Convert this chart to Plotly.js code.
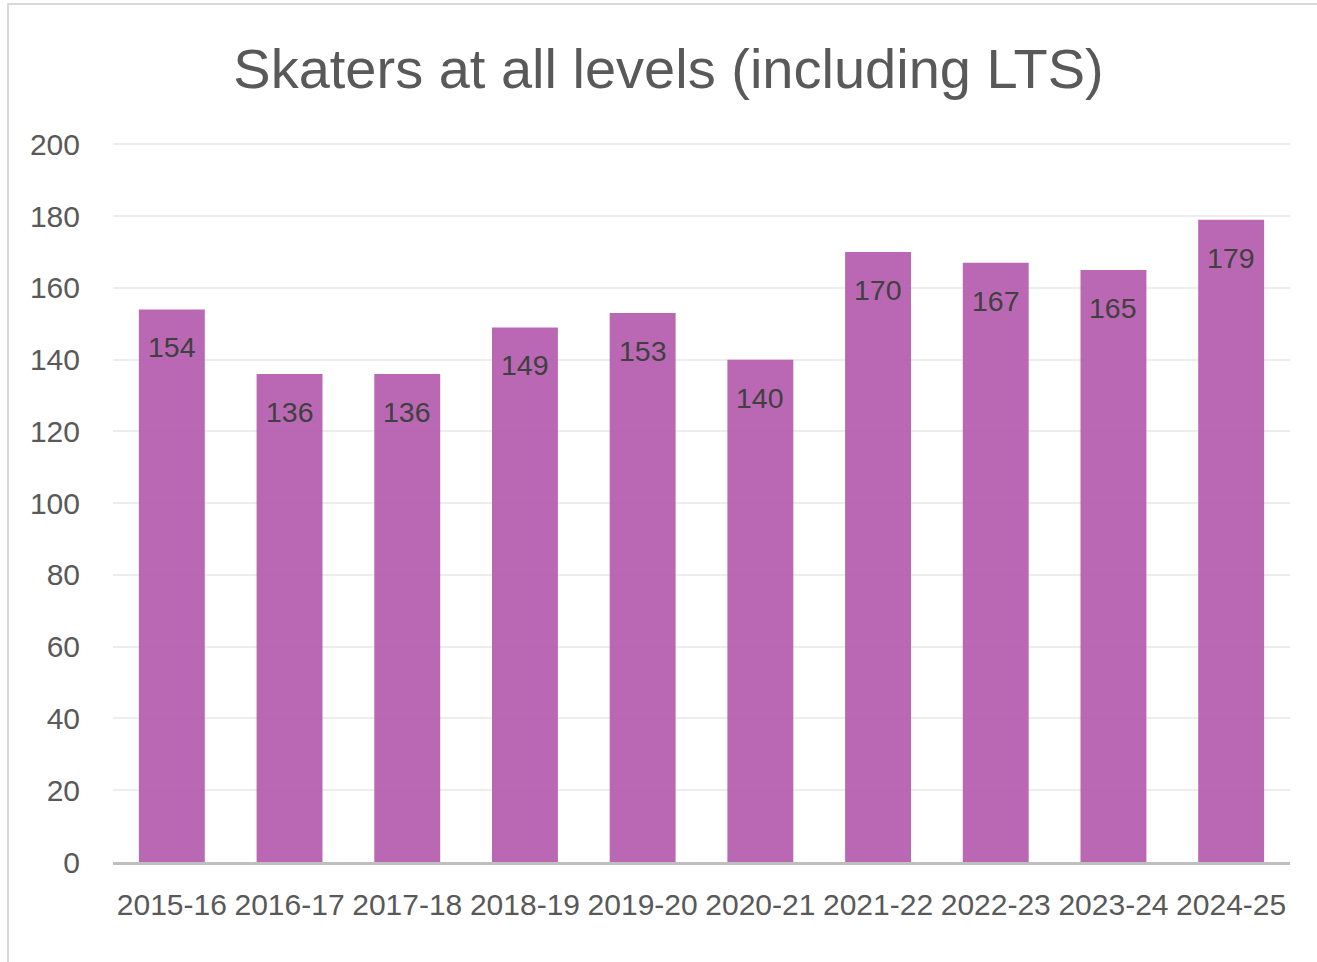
<!DOCTYPE html>
<html>
<head>
<meta charset="utf-8">
<script src="https://cdn.plot.ly/plotly-3.0.1.min.js"></script>
<style>
html,body{margin:0;padding:0;background:#fff;}
#wrap{position:absolute;left:0;top:0;width:1317px;height:962px;overflow:hidden;}
#frame{position:absolute;left:7px;top:3px;width:1330px;height:990px;border:2px solid #D9D9D9;box-sizing:border-box;pointer-events:none;}
#chart{position:absolute;left:0;top:0;width:1317px;height:962px;}
</style>
</head>
<body>
<div id="wrap">
<div id="chart"></div>
<div id="frame"></div>
</div>
<script>
const seasons = ["2015-16","2016-17","2017-18","2018-19","2019-20","2020-21","2021-22","2022-23","2023-24","2024-25"];
const skaters = [154,136,136,149,153,140,170,167,165,179];
const yTicks = [0,20,40,60,80,100,120,140,160,180,200];

const fontFam = "Liberation Sans, Arial, sans-serif";

const trace = {
  type: "bar",
  x: seasons,
  y: skaters,
  marker: {color: "rgba(180,88,172,0.9)"},
  hoverinfo: "x+y"
};

const annotations = seasons.map((s, i) => ({
  x: s, y: skaters[i], xref: "x", yref: "y",
  text: String(skaters[i]),
  showarrow: false,
  yanchor: "middle",
  yshift: -38,
  font: {family: fontFam, size: 28.5, color: "#404040"}
}));

const layout = {
  width: 1317, height: 962,
  margin: {l: 113, r: 27, t: 143, b: 100, pad: 0},
  paper_bgcolor: "#ffffff",
  plot_bgcolor: "rgba(0,0,0,0)",
  bargap: 0.44,
  showlegend: false,
  title: {
    text: "Skaters at all levels (including LTS)",
    x: 668.5/1317, xanchor: "center",
    y: 1 - 68/962, yanchor: "middle",
    font: {family: fontFam, size: 56, color: "#595959"}
  },
  xaxis: {
    type: "category",
    showgrid: false,
    showline: true, linecolor: "#BFBFBF", linewidth: 3,
    ticks: "outside", ticklen: 14, tickcolor: "rgba(0,0,0,0)",
    tickangle: 0,
    tickfont: {family: fontFam, size: 30, color: "#595959"},
    fixedrange: true
  },
  yaxis: {
    range: [0, 200.4],
    tickvals: yTicks,
    ticktext: yTicks.map(String),
    showgrid: true, gridcolor: "#EDEDED", gridwidth: 2,
    zeroline: false, showline: false,
    ticks: "outside", ticklen: 26, tickcolor: "rgba(0,0,0,0)",
    tickfont: {family: fontFam, size: 30, color: "#595959"},
    layer: "above traces",
    fixedrange: true
  },
  annotations: annotations
};

Plotly.newPlot("chart", [trace], layout, {displayModeBar: false, staticPlot: true});
</script>
</body>
</html>
